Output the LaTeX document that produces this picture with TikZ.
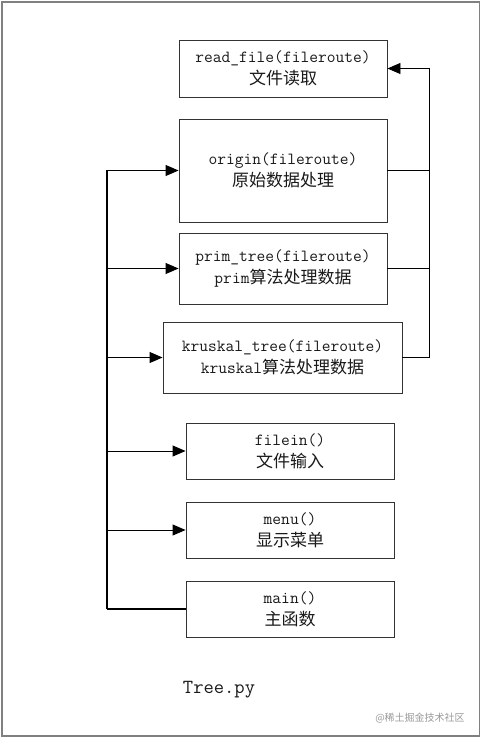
\documentclass[tikz,border=0pt]{standalone}
\usepackage{fontspec}
\newfontfamily\cjk{Noto Sans CJK SC}
\usetikzlibrary{arrows.meta}
\tikzset{
  fbox/.style={draw=black!80, line width=0.9pt, minimum width=208pt, minimum height=57pt,
    inner sep=0pt, align=center, text=black!90,
    font=\fontsize{17pt}{22pt}\selectfont\ttfamily},
  conn/.style={draw=black, line width=0.9pt},
  arr/.style={conn, -{Triangle[length=13pt,width=11pt]}},
}
\newcommand{\zh}[1]{{\cjk\fontsize{17pt}{22pt}\selectfont #1}}
\begin{document}
\begin{tikzpicture}[x=1pt,y=-1pt]
\useasboundingbox (0,0) rectangle (481,738);
\draw[draw=black!50, line width=1.6pt] (2,2) rectangle (479.5,736);
\node[fbox] (read) at (283,68.5) {read\_file(fileroute)\\\zh{文件读取}};
\node[fbox, minimum height=103pt] (origin) at (283,170.5) {origin(fileroute)\\\zh{原始数据处理}};
\node[fbox, minimum height=71pt] (prim) at (283,268.5) {prim\_tree(fileroute)\\prim\zh{算法处理数据}};
\node[fbox, minimum width=239pt, minimum height=71pt] (kruskal) at (282.5,357.5) {kruskal\_tree(fileroute)\\kruskal\zh{算法处理数据}};
\node[fbox, minimum height=56pt] (filein) at (290,451) {filein()\\\zh{文件输入}};
\node[fbox, minimum height=56pt] (menu) at (290,530) {menu()\\\zh{显示菜单}};
\node[fbox, minimum height=56pt] (main) at (290,609) {main()\\\zh{主函数}};
\node[font=\fontsize{20pt}{22pt}\selectfont\ttfamily, text=black!90] (title) at (219,690) {Tree.py};
\node[font=\cjk\fontsize{10pt}{12pt}\selectfont, text=black!40] (wm) at (420,718) {@稀土掘金技术社区};
\coordinate (lx) at (107,0);
\coordinate (rx) at (429,0);
% left trunk
\draw[conn, line width=1.7pt] (main.west) -- (main.west -| lx);
\draw[conn, line width=1.3pt] (main.west -| lx) -- (origin.west -| lx);
\draw[arr] (origin.west -| lx) -- (origin.west);
\draw[arr] (prim.west -| lx) -- (prim.west);
\draw[arr] (kruskal.west -| lx) -- (kruskal.west);
\draw[arr] (filein.west -| lx) -- (filein.west);
\draw[arr] (menu.west -| lx) -- (menu.west);
% right trunk
\draw[conn] (origin.east) -- (origin.east -| rx);
\draw[conn] (prim.east) -- (prim.east -| rx);
\draw[arr] (kruskal.east) -- (kruskal.east -| rx) -- (read.east -| rx) -- (read.east);
\end{tikzpicture}
\end{document}
